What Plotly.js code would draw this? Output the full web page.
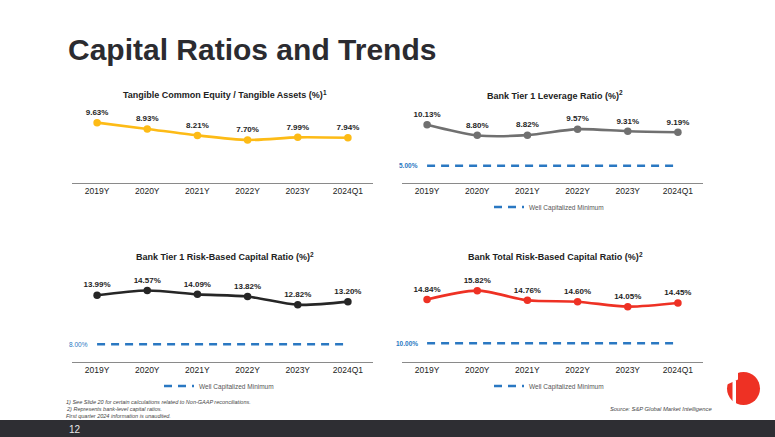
<!DOCTYPE html>
<html>
<head>
<meta charset="utf-8">
<script src="https://cdn.plot.ly/plotly-3.0.1.min.js"></script>
<style>
  html, body { margin: 0; padding: 0; background: #ffffff; }
  #chart { width: 775px; height: 437px; }
</style>
</head>
<body>
<div id="chart"></div>
<script>
// ---------------- DATA ----------------
const categories = ['2019Y', '2020Y', '2021Y', '2022Y', '2023Y', '2024Q1'];
const tceValues = [9.63, 8.93, 8.21, 7.70, 7.99, 7.94];
const leverageValues = [10.13, 8.80, 8.82, 9.57, 9.31, 9.19];
const tier1RbcValues = [13.99, 14.57, 14.09, 13.82, 12.82, 13.20];
const totalRbcValues = [14.84, 15.82, 14.76, 14.60, 14.05, 14.45];
const leverageMinimum = 5.00;
const tier1Minimum = 8.00;
const totalMinimum = 10.00;
const chartTitles = [
  'Tangible Common Equity / Tangible Assets (%)',
  'Bank Tier 1 Leverage Ratio (%)',
  'Bank Tier 1 Risk-Based Capital Ratio (%)',
  'Bank Total Risk-Based Capital Ratio (%)'
];
const titleNotes = ['1', '2', '2', '2'];
const minimumLabel = 'Well Capitalized Minimum';
const footnotes = [
  '1) See Slide 20 for certain calculations related to Non-GAAP reconciliations.',
  '2) Represents bank-level capital ratios.',
  'First quarter 2024 information is unaudited.'
];
const sourceText = 'Source: S&P Global Market Intelligence';
const pageTitle = 'Capital Ratios and Trends';
const pageNumber = '12';

// ---------------- HELPERS ----------------
const W = 775, H = 437;
const px = x => x / W;
const py = y => 1 - y / H;
const pct = v => v.toFixed(2) + '%';
const FONT = 'Liberation Sans, Arial, Helvetica, sans-serif';
const BLUE = '#2A78C2';

const measureCtx = document.createElement('canvas').getContext('2d');
function textWidth(text, size, bold) {
  measureCtx.font = (bold ? 'bold ' : '') + size + 'px "Liberation Sans", Arial, sans-serif';
  return measureCtx.measureText(text).width;
}

function seriesTrace(values, color, xa, ya) {
  return {
    x: categories, y: values, xaxis: xa, yaxis: ya,
    type: 'scatter', mode: 'lines+markers+text',
    line: { color: color, width: 2.6, shape: 'spline', smoothing: 0.8 },
    marker: { color: color, size: 7.5 },
    text: values.map(pct), textposition: 'top center',
    textfont: { family: FONT, size: 8, color: '#1e1e1e', weight: 'bold' },
    cliponaxis: false, showlegend: false, hoverinfo: 'skip'
  };
}
function minimumTrace(value, xa, ya, legendId) {
  return {
    x: categories, y: categories.map(() => value), xaxis: xa, yaxis: ya,
    type: 'scatter', mode: 'lines', name: minimumLabel,
    line: { color: BLUE, width: 2.4, dash: '8px,6px' },
    legend: legendId, showlegend: true, cliponaxis: false, hoverinfo: 'skip'
  };
}

const data = [
  seriesTrace(tceValues, '#FDBB16', 'x', 'y'),
  minimumTrace(leverageMinimum, 'x2', 'y2', 'legend'),
  seriesTrace(leverageValues, '#707070', 'x2', 'y2'),
  minimumTrace(tier1Minimum, 'x3', 'y3', 'legend2'),
  seriesTrace(tier1RbcValues, '#262626', 'x3', 'y3'),
  minimumTrace(totalMinimum, 'x4', 'y4', 'legend3'),
  seriesTrace(totalRbcValues, '#EE3124', 'x4', 'y4')
];

function xAxis(domain, anchor) {
  return {
    domain: domain, anchor: anchor, type: 'category', range: [-0.5, 5.5],
    showline: true, linecolor: '#8a8a8a', linewidth: 1,
    showgrid: false, zeroline: false, ticks: '',
    tickfont: { family: FONT, size: 8.5, color: '#222222' }, fixedrange: true
  };
}
function yAxis(domain, anchor, range) {
  return { domain: domain, anchor: anchor, range: range, visible: false, fixedrange: true };
}

const leftX = [px(72), px(373)], rightX = [px(402), px(703)];
const topY = [py(183), py(105)], botY = [py(361.7), py(283.7)];

function legendAt(xc, yc) {
  return {
    x: px(xc), y: py(yc), xanchor: 'center', yanchor: 'middle',
    orientation: 'h', bgcolor: 'rgba(0,0,0,0)', itemwidth: 30,
    font: { family: FONT, size: 6.5, color: '#555555' }, tracegroupgap: 0
  };
}

const annotations = [];
function addText(text, x, y, size, opts) {
  annotations.push(Object.assign({
    text: text, xref: 'paper', yref: 'paper', x: px(x), y: py(y),
    showarrow: false, xanchor: 'center', yanchor: 'middle',
    font: { family: FONT, size: size, color: '#222222' }
  }, opts || {}));
}
addText(pageTitle, 66, 50, 30, { xanchor: 'left', font: { family: FONT, size: 30, color: '#2B2B30', weight: 'bold' } });

const titleSize = 9, noteSize = 6.5;
const titleCenters = [[223, 95], [553, 95.5], [223, 257], [553, 257]];
chartTitles.forEach((t, i) => {
  const w = textWidth(t, titleSize, true);
  const wn = textWidth(titleNotes[i], noteSize, true);
  const left = titleCenters[i][0] - (w + wn) / 2;
  const yc = titleCenters[i][1];
  addText(t, left, yc, titleSize, { xanchor: 'left',
    font: { family: FONT, size: titleSize, color: '#222', weight: 'bold' } });
  addText(titleNotes[i], left + w, yc - 3, noteSize, { xanchor: 'left',
    font: { family: FONT, size: noteSize, color: '#222', weight: 'bold' } });
});

function minLabel(value, xa, ya, bold) {
  annotations.push({
    text: pct(value), xref: xa, yref: ya, x: 0, y: value, xshift: -7,
    xanchor: 'right', yanchor: 'middle', showarrow: false,
    font: { family: FONT, size: 6.5, color: BLUE, weight: bold ? 'bold' : 'normal' }
  });
}
minLabel(leverageMinimum, 'x2', 'y2', true);
minLabel(tier1Minimum, 'x3', 'y3', false);
minLabel(totalMinimum, 'x4', 'y4', true);

footnotes.forEach((t, i) => addText(t, 64, 401.7 + i * 7, 5.5,
  { xanchor: 'left', font: { family: FONT, size: 5.5, color: '#444444', style: 'italic' } }));
addText(sourceText, 714, 409.3, 5.8,
  { xanchor: 'right', font: { family: FONT, size: 5.8, color: '#444444', style: 'italic' } });
addText(pageNumber, 67, 429, 10, { xanchor: 'left', font: { family: FONT, size: 10, color: '#e6e6e6' } });

const shapes = [
  { type: 'rect', xref: 'paper', yref: 'paper', x0: 0, x1: 1, y0: 0, y1: py(420),
    fillcolor: '#2E2E33', line: { width: 0 }, layer: 'below' },
  { type: 'circle', xref: 'paper', yref: 'paper', x0: px(727), x1: px(760), y0: py(405), y1: py(372),
    fillcolor: '#EE3124', line: { width: 0 } },
  { type: 'rect', xref: 'paper', yref: 'paper', x0: px(732.5), x1: px(736), y0: py(407), y1: py(380.5),
    fillcolor: '#ffffff', line: { width: 0 } },
  { type: 'path', xref: 'paper', yref: 'paper',
    path: `M ${px(725)} ${py(370)} L ${px(738)} ${py(370)} L ${px(738)} ${py(379.5)} L ${px(726)} ${py(385)} Z`,
    fillcolor: '#ffffff', line: { width: 0 } }
];

const layout = {
  width: W, height: H, margin: { l: 0, r: 0, t: 0, b: 0 },
  paper_bgcolor: '#ffffff', plot_bgcolor: '#ffffff',
  font: { family: FONT },
  xaxis: xAxis(leftX, 'y'), yaxis: yAxis(topY, 'x', [2.9, 11.6]),
  xaxis2: xAxis(rightX, 'y2'), yaxis2: yAxis(topY, 'x2', [2.84, 12.59]),
  xaxis3: xAxis(leftX, 'y3'), yaxis3: yAxis(botY, 'x3', [5.88, 15.39]),
  xaxis4: xAxis(rightX, 'y4'), yaxis4: yAxis(botY, 'x4', [7.96, 16.59]),
  legend: legendAt(549, 207),
  legend2: legendAt(219, 386),
  legend3: legendAt(549, 386),
  annotations: annotations,
  shapes: shapes,
  hovermode: false
};

Plotly.newPlot('chart', data, layout, { displayModeBar: false, staticPlot: true });
</script>
</body>
</html>
